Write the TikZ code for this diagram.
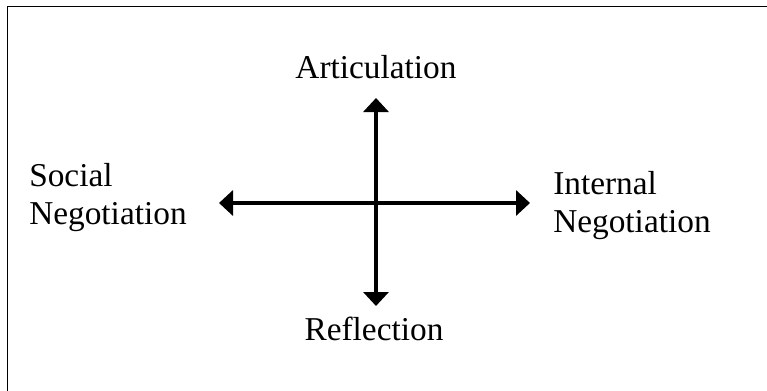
\documentclass[tikz,border=0pt]{standalone}
\usepackage{fontspec}
\setmainfont{Liberation Serif}
\usepackage{tikz}
\usetikzlibrary{arrows.meta,positioning}

\begin{document}
\begin{tikzpicture}[
    x=0.75pt, y=-0.75pt,
    label/.style={inner sep=0pt, align=left,
      font=\fontsize{25}{28.5}\selectfont},
    arr/.style={{Triangle[length=10.5pt,width=18.75pt]}-{Triangle[length=10.5pt,width=18.75pt]},
      line width=3pt}
  ]
    \useasboundingbox (0,0) rectangle (767,390);
    \draw[line width=0.75pt] (7,400) |- (780,6);
    % end points of the two axes
    \coordinate (north) at (376,98);
    \coordinate (south) at (376,306);
    \coordinate (west) at (219,203);
    \coordinate (east) at (530,203);
    \draw[arr] (south) -- (north);
    \draw[arr] (west) -- (east);
    \node[label, anchor=base] (artic) at (376,78) {Articulation};
    \node[label, anchor=base] (reflect) at (374,340) {Reflection};
    \node[label, anchor=base west] (social) at (29,224) {Social\\Negotiation};
    \node[label, anchor=base west] (internal) at (553,232) {Internal\\Negotiation};
  \end{tikzpicture}
\end{document}
